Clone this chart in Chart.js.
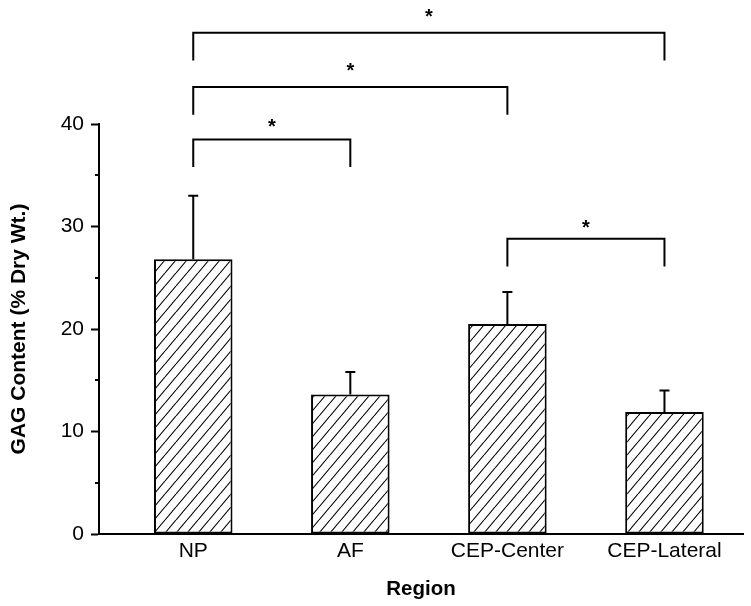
<!DOCTYPE html>
<html>
<head>
<meta charset="utf-8">
<script src="https://cdn.jsdelivr.net/npm/chart.js@4.4.0/dist/chart.umd.min.js"></script>
<style>
  html, body { margin: 0; padding: 0; background: #fff; }
  canvas { display: block; }
</style>
</head>
<body>
<canvas id="gagChart" width="751" height="606"></canvas>
<script>
// GAG content per disc region
const regions = ['NP', 'AF', 'CEP-Center', 'CEP-Lateral'];
const gagMean = [26.8, 13.6, 20.5, 11.9];
const gagErr = [6.2, 2.2, 3.1, 2.1];
const yTicks = [0, 10, 20, 30, 40];
const yMinorTicks = [5, 15, 25, 35];

// significance brackets (indexes into regions, heights in y units)
const sigFrom = [0, 0, 0, 2];
const sigTo = [3, 2, 1, 3];
const sigTop = [48.9, 43.6, 38.5, 28.8];
const sigLeg = [46.2, 40.9, 35.8, 26.1];
const sigStar = [50.9, 45.7, 40.2, 30.3];
const sigText = ['*', '*', '*', '*'];

const FONT = '"Liberation Sans", Arial, Helvetica, sans-serif';
Chart.defaults.font.family = FONT;
Chart.defaults.color = '#000';

// diagonal hatch fill
function makeHatch() {
  const w = 11, h = 13;
  const c = document.createElement('canvas');
  c.width = w; c.height = h;
  const g = c.getContext('2d');
  g.fillStyle = '#fff';
  g.fillRect(0, 0, w, h);
  g.strokeStyle = '#000';
  g.lineWidth = 1.1;
  g.beginPath();
  g.moveTo(0, h); g.lineTo(w, 0);
  g.moveTo(-w, h); g.lineTo(0, 0);
  g.moveTo(w, h); g.lineTo(2 * w, 0);
  g.stroke();
  return g.createPattern(c, 'repeat');
}

const errorBars = {
  id: 'errorBars',
  afterDatasetsDraw(chart) {
    const ctx = chart.ctx;
    const y = chart.scales.y;
    const meta = chart.getDatasetMeta(0);
    ctx.save();
    ctx.strokeStyle = '#000';
    ctx.lineWidth = 2;
    meta.data.forEach((bar, i) => {
      const top = y.getPixelForValue(gagMean[i] + gagErr[i]);
      ctx.beginPath();
      ctx.moveTo(bar.x, bar.y);
      ctx.lineTo(bar.x, top);
      ctx.moveTo(bar.x - 5, top);
      ctx.lineTo(bar.x + 5, top);
      ctx.stroke();
    });
    ctx.restore();
  }
};

const extras = {
  id: 'extras',
  afterDraw(chart) {
    const ctx = chart.ctx;
    const x = chart.scales.x;
    const y = chart.scales.y;
    ctx.save();
    ctx.strokeStyle = '#000';
    ctx.fillStyle = '#000';
    ctx.lineWidth = 2;
    // minor ticks on y axis
    yMinorTicks.forEach(v => {
      const py = Math.round(y.getPixelForValue(v));
      ctx.beginPath();
      ctx.moveTo(y.right - 4, py);
      ctx.lineTo(y.right, py);
      ctx.stroke();
    });
    // brackets
    ctx.font = 'bold 20px ' + FONT;
    ctx.textAlign = 'center';
    ctx.textBaseline = 'alphabetic';
    sigFrom.forEach((a, k) => {
      const x1 = x.getPixelForValue(a + 1);
      const x2 = x.getPixelForValue(sigTo[k] + 1);
      const yt = y.getPixelForValue(sigTop[k]);
      const yl = y.getPixelForValue(sigLeg[k]);
      ctx.beginPath();
      ctx.moveTo(x1, yl);
      ctx.lineTo(x1, yt);
      ctx.lineTo(x2, yt);
      ctx.lineTo(x2, yl);
      ctx.stroke();
      ctx.fillText(sigText[k], (x1 + x2) / 2, y.getPixelForValue(sigStar[k]) + 11);
    });
    ctx.restore();
  }
};

const ctx = document.getElementById('gagChart').getContext('2d');
new Chart(ctx, {
  type: 'bar',
  data: {
    datasets: [{
      data: regions.map((r, i) => ({ x: i + 1, y: gagMean[i] })),
      backgroundColor: makeHatch(),
      borderColor: '#000',
      borderWidth: 2,
      borderSkipped: false,
      barPercentage: 0.5,
      categoryPercentage: 1.0
    }]
  },
  options: {
    responsive: false,
    animation: false,
    devicePixelRatio: 1,
    layout: { padding: { top: 124, right: 8, left: 0, bottom: 0 } },
    plugins: { legend: { display: false }, tooltip: { enabled: false } },
    scales: {
      x: {
        type: 'linear',
        offset: false,
        min: 0.4,
        max: 4.5,
        afterBuildTicks: s => { s.ticks = regions.map((r, i) => ({ value: i + 1 })); },
        afterFit: s => { s.height = 72; },
        ticks: {
          autoSkip: false,
          maxRotation: 0,
          padding: 5,
          font: { size: 21 },
          callback: v => regions[v - 1]
        },
        grid: { drawOnChartArea: false, drawTicks: false },
        border: { color: '#000', width: 2 },
        title: {
          display: true,
          text: 'Region',
          font: { size: 20.5, weight: 'bold' },
          padding: { top: 0, bottom: 4 }
        }
      },
      y: {
        min: 0,
        max: 40,
        afterBuildTicks: s => { s.ticks = yTicks.map(v => ({ value: v })); },
        afterFit: s => { s.width = 99; },
        ticks: { padding: 7, font: { size: 21 } },
        grid: { drawOnChartArea: false, tickLength: 8, tickColor: '#000', tickWidth: 2 },
        border: { color: '#000', width: 2 },
        title: {
          display: true,
          text: 'GAG Content (% Dry Wt.)',
          font: { size: 21, weight: 'bold' },
          padding: { top: 7, bottom: 0 }
        }
      }
    }
  },
  plugins: [errorBars, extras]
});
</script>
</body>
</html>
